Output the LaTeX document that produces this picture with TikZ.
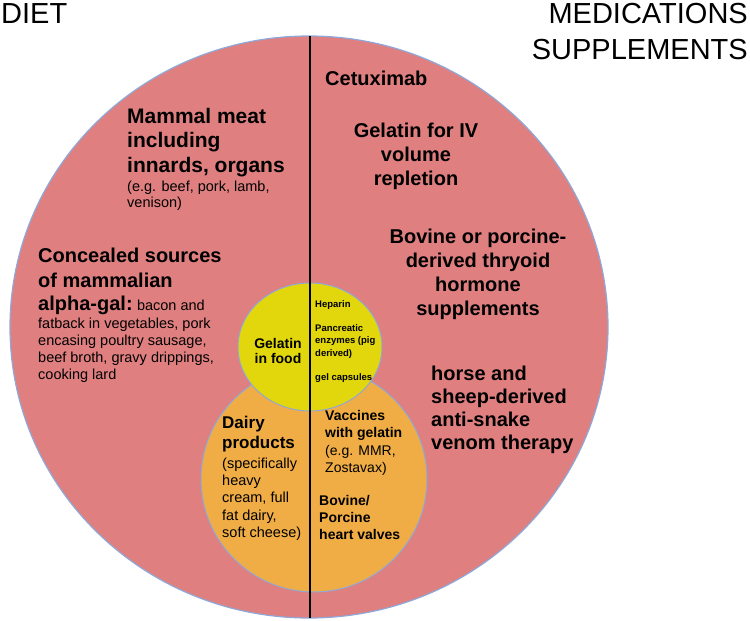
\documentclass[tikz,border=0pt]{standalone}
\usepackage{fontspec}
\setmainfont{Liberation Sans}
\definecolor{meat}{HTML}{E07F7F}
\definecolor{rim}{HTML}{8FA8D8}
\definecolor{gel}{HTML}{E2D60C}
\definecolor{dairy}{HTML}{F0AD45}
\tikzset{
  big/.style={font=\fontsize{20}{24}\selectfont\bfseries,align=left,inner sep=0pt},
  small/.style={font=\fontsize{14.5}{17}\selectfont,align=left,inner sep=0pt},
  mid/.style={font=\fontsize{14}{17}\selectfont\bfseries,align=left,inner sep=0pt},
  tiny/.style={font=\fontsize{9.5}{12.5}\selectfont\bfseries,align=left,inner sep=0pt},
  head/.style={font=\fontsize{29}{36}\selectfont,inner sep=0pt}
}
\begin{document}
\begin{tikzpicture}[x=1pt,y=-1pt]
\useasboundingbox (0,0) rectangle (750,621);
% circles
\draw[rim,line width=1.2pt,fill=meat] (309,327) ellipse (299 and 291);
\draw[rim,line width=1pt,fill=dairy] (314,479) circle (113);
\draw[rim,line width=1pt,fill=gel] (310,347) ellipse (72 and 64);
\draw[line width=1.2pt] (310,36) -- (310,618);
% headings
\node[head,anchor=north west] (diet) at (1,3) {DIET};
\node[head,anchor=north east,align=right] (meds) at (748,3) {MEDICATIONS\\SUPPLEMENTS};
% diet side
\node[big,anchor=north west,font=\fontsize{21}{24.5}\selectfont\bfseries] (meat) at (127,108) {Mammal meat\\including\\innards, organs};
\node[small,anchor=north west,font=\fontsize{14.5}{16}\selectfont] (meatex) at (127,181) {(e.g. beef, pork, lamb,\\venison)};
\node[big,anchor=north west,font=\fontsize{20}{25}\selectfont\bfseries] (hidden) at (38,248) {Concealed sources\\of mammalian};
\node[big,anchor=base west] (alpha) at (38,310) {alpha-gal:};
\node[small,anchor=base west] (bacon) at ([xshift=4pt]alpha.base east) {bacon and};
\node[small,anchor=north west] (hiddenex) at (38,317.5) {fatback in vegetables, pork\\encasing poultry sausage,\\beef broth, gravy drippings,\\cooking lard};
% centre circles
\node[mid,align=center,font=\fontsize{14}{15.5}\selectfont\bfseries] (food) [anchor=north] at (278,338) {Gelatin\\in food};
\node[tiny,anchor=north west] (hep) at (315,300) {Heparin};
\node[tiny,anchor=north west] (panc) at (315,324) {Pancreatic\\enzymes (pig\\derived)};
\node[tiny,anchor=north west] (caps) at (315,373) {gel capsules};
\node[mid,anchor=north west,font=\fontsize{17}{20}\selectfont\bfseries] (dairyt) at (222,416) {Dairy\\products};
\node[small,anchor=north west,font=\fontsize{14.5}{17.3}\selectfont] (dairyex) at (222,457.5) {(specifically\\heavy\\cream, full\\fat dairy,\\soft cheese)};
\node[mid,anchor=north west] (vacc) at (325,410) {Vaccines\\with gelatin};
\node[small,anchor=north west,font=\fontsize{14}{17}\selectfont] (vaccex) at (325,445) {(e.g. MMR,\\Zostavax)};
\node[mid,anchor=north west] (valve) at (319,495) {Bovine/\\Porcine\\heart valves};
% medications side
\node[big,anchor=north west] (cetux) at (325,70.6) {Cetuximab};
\node[big,align=center,anchor=north] (iv) at (416,122.6) {Gelatin for IV\\volume\\repletion};
\node[big,align=center,anchor=north] (thyr) at (478,228.6) {Bovine or porcine-\\derived thryoid\\hormone\\supplements};
\node[big,anchor=north west,font=\fontsize{20}{23}\selectfont\bfseries] (venom) at (431,365.6) {horse and\\sheep-derived\\anti-snake\\venom therapy};
\end{tikzpicture}
\end{document}
